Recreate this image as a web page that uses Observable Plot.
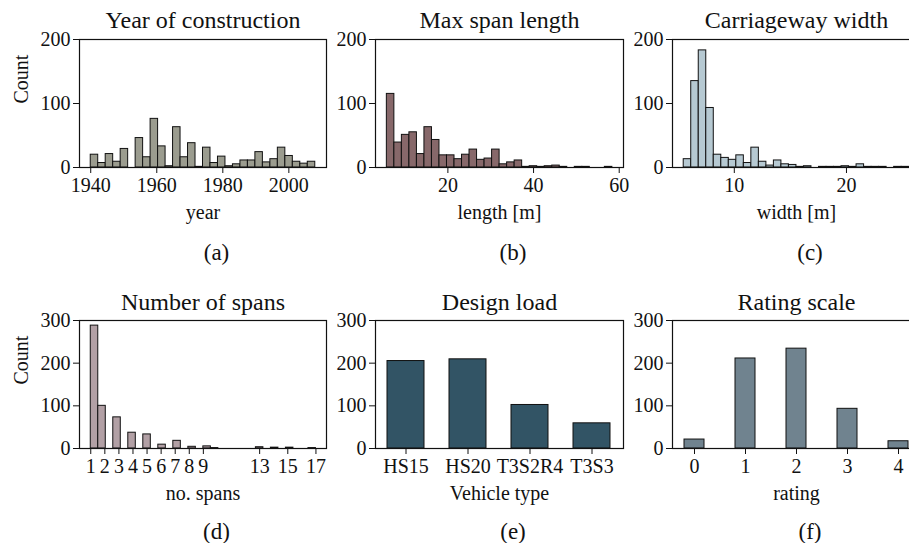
<!DOCTYPE html>
<html>
<head>
<meta charset="utf-8">
<script src="https://cdn.jsdelivr.net/npm/d3@7"></script>
<script src="https://cdn.jsdelivr.net/npm/@observablehq/plot@0.6"></script>
<style>
  html, body { margin: 0; padding: 0; background: white; }
  #chart { position: relative; width: 909px; height: 543px; overflow: hidden; background: white; }
</style>
</head>
<body>
<div id="chart"></div>
<script>
// ---------- data ----------
// (a) Year of construction: 30 histogram bins between 1940 and 2008
const yearLo = 1940, yearHi = 2008;
const yearCounts = [20, 7, 21, 9, 29, 0, 46, 16, 76, 33, 2, 63, 16, 38, 1,
                    31, 7, 17, 2, 5, 11, 11, 24, 8, 13, 31, 18, 9, 6, 9];
const yearTicks = [1940, 1960, 1980, 2000];

// (b) Max span length [m]: 30 bins
const lenLo = 5.75, lenHi = 58.4;
const lenCounts = [115, 39, 51, 55, 21, 63, 43, 19, 19, 13, 20, 28, 12, 14, 28,
                   5, 8, 11, 1, 2, 1, 2, 3, 1, 0, 1, 1, 0, 0, 1];
const lenTicks = [20, 40, 60];

// (c) Carriageway width [m]: 30 bins
const widLo = 5.49, widHi = 25.59;
const widCounts = [13, 135, 183, 93, 20, 15, 12, 19, 7, 31, 9, 3, 11, 5, 4,
                   1, 2, 0, 1, 1, 1, 2, 1, 5, 1, 1, 1, 0, 1, 1];
const widTicks = [10, 20];

// (d) Number of spans: 30 bins between 1 and 17
const spanLo = 1, spanHi = 17;
const spanCounts = [288, 100, 0, 73, 0, 37, 0, 33, 0, 9, 0, 18, 0, 4, 0,
                    5, 1, 0, 0, 0, 0, 0, 3, 0, 2, 0, 2, 0, 0, 1];
const spanTicks = [1, 2, 3, 4, 5, 6, 7, 8, 9, 13, 15, 17];

// (e) Design load
const vehicleTypes = ["HS15", "HS20", "T3S2R4", "T3S3"];
const vehicleCounts = [205, 209, 102, 59];

// (f) Rating scale
const ratings = [0, 1, 2, 3, 4];
const ratingCounts = [21, 211, 234, 93, 17];

// ---------- helpers ----------
const FONT = "'Liberation Serif', 'DejaVu Serif', serif";
const TICK_FS = 20;
const container = document.getElementById("chart");

function binRows(counts, lo, hi) {
  const w = (hi - lo) / counts.length;
  return counts.map((c, i) => ({x1: lo + i * w, x2: lo + (i + 1) * w, count: c}));
}

function panel(o) {
  const frameTop = o.row === 0 ? 39 : 320;
  const svgTop = o.row === 0 ? 0 : 280;
  const svgH = o.row === 0 ? 270 : 263;
  const frameLeft = [79, 375, 672][o.col];
  const frameW = [247, 248, 248][o.col];
  const svgLeft = [0, 330, 630][o.col];
  const mL = frameLeft - svgLeft, mT = frameTop - svgTop, mR = 12;
  const mB = svgH - mT - 128;
  const W = mL + frameW + mR;
  const capDy = o.row === 0 ? 85 : 83;
  const titleDy = o.row === 0 ? -19 : -18;

  const marks = [
    ...o.marks,
    Plot.frame({stroke: "#111", strokeWidth: 1.2}),
    Plot.axisX({ticks: o.xTicks, tickFormat: o.xFormat, tickSize: 6, tickPadding: 4, label: null, stroke: "#111", fontSize: TICK_FS, fill: "#111"}),
    Plot.axisY({ticks: o.yTicks, tickSize: 6, tickPadding: 3, label: null, stroke: "#111", fontSize: TICK_FS, fill: "#111"}),
    Plot.text([o.title], {text: d => d, frameAnchor: "top", lineAnchor: "middle", dy: titleDy, fontSize: 24, fill: "#111"}),
    Plot.text([o.xlabel], {text: d => d, frameAnchor: "bottom", lineAnchor: "middle", dy: 45, fontSize: 20, fill: "#111"}),
    Plot.text([o.caption], {text: d => d, frameAnchor: "bottom", lineAnchor: "middle", dx: 13.5, dy: capDy, fontSize: 23, fill: "#111"})
  ];
  if (o.ylabel) {
    marks.push(Plot.text([o.ylabel], {text: d => d, frameAnchor: "left", lineAnchor: "middle", dx: -58, rotate: -90, fontSize: 20, fill: "#111"}));
  }
  const svg = Plot.plot({
    width: W, height: svgH,
    marginLeft: mL, marginRight: mR, marginTop: mT, marginBottom: mB,
    x: o.x,
    y: {domain: [0, o.yMax]},
    marks,
    style: {
      position: "absolute", left: svgLeft + "px", top: svgTop + "px",
      maxWidth: "none", fontFamily: FONT, fontSize: TICK_FS + "px",
      background: "transparent", overflow: "visible", color: "#111"
    }
  });
  container.append(svg);
}

function histMarks(rows, fill) {
  return [Plot.rectY(rows, {x1: "x1", x2: "x2", y1: 0, y2: "count", fill, stroke: "#111", strokeWidth: 1})];
}

// ---------- panels ----------
panel({
  row: 0, col: 0, title: "Year of construction", xlabel: "year", caption: "(a)", ylabel: "Count",
  x: {domain: [1936.6, 2011.4]}, xTicks: yearTicks, xFormat: d => String(d),
  yMax: 200, yTicks: [0, 100, 200],
  marks: histMarks(binRows(yearCounts, yearLo, yearHi), "#9b9c8f")
});
panel({
  row: 0, col: 1, title: "Max span length", xlabel: "length [m]", caption: "(b)",
  x: {domain: [3.1, 61.0]}, xTicks: lenTicks, xFormat: d => String(d),
  yMax: 200, yTicks: [0, 100, 200],
  marks: histMarks(binRows(lenCounts, lenLo, lenHi), "#87686a")
});
panel({
  row: 0, col: 2, title: "Carriageway width", xlabel: "width [m]", caption: "(c)",
  x: {domain: [4.49, 26.6]}, xTicks: widTicks, xFormat: d => String(d),
  yMax: 200, yTicks: [0, 100, 200],
  marks: histMarks(binRows(widCounts, widLo, widHi), "#b6c9d2")
});
panel({
  row: 1, col: 0, title: "Number of spans", xlabel: "no. spans", caption: "(d)", ylabel: "Count",
  x: {domain: [0.2, 17.75]}, xTicks: spanTicks, xFormat: d => String(d),
  yMax: 300, yTicks: [0, 100, 200, 300],
  marks: histMarks(binRows(spanCounts, spanLo, spanHi), "#b2a0a5")
});
panel({
  row: 1, col: 1, title: "Design load", xlabel: "Vehicle type", caption: "(e)",
  x: {type: "band", domain: vehicleTypes, paddingInner: 0.4, paddingOuter: 0.18},
  yMax: 300, yTicks: [0, 100, 200, 300],
  marks: [Plot.barY(vehicleTypes, {x: d => d, y: (d, i) => vehicleCounts[i], fill: "#325465", stroke: "#111", strokeWidth: 1})]
});
panel({
  row: 1, col: 2, title: "Rating scale", xlabel: "rating", caption: "(f)",
  x: {type: "band", domain: ratings, paddingInner: 0.6, paddingOuter: 0.22},
  yMax: 300, yTicks: [0, 100, 200, 300],
  marks: [Plot.barY(ratings, {x: d => d, y: (d, i) => ratingCounts[i], fill: "#70838f", stroke: "#111", strokeWidth: 1})]
});
</script>
</body>
</html>
